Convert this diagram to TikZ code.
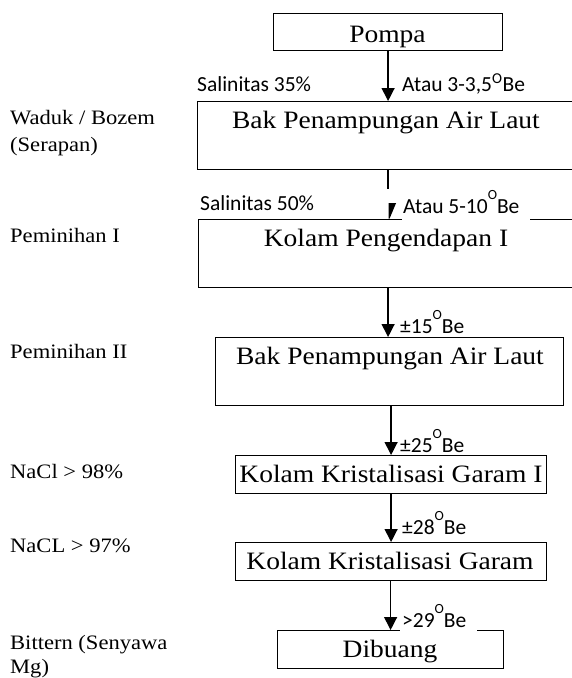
\documentclass[tikz,border=0pt]{standalone}
\usepackage{fontspec}
\setmainfont{Liberation Serif}
\newfontfamily\calfont{Carlito}
\newfontfamily\boxfont[FakeStretch=1.1]{Liberation Serif}
\usetikzlibrary{arrows.meta}
\newcommand{\supA}{\textsuperscript{O}}
\newcommand{\supB}{\raisebox{0.62em}{\fontsize{14}{14}\selectfont O}}
\begin{document}
\begin{tikzpicture}[x=1pt,y=-1pt,
  box/.style={draw, line width=1.2pt, inner sep=0pt, anchor=north west},
  boxtxt/.style={font=\boxfont\fontsize{25}{28}\selectfont, anchor=base, inner sep=0pt},
  side/.style={font=\boxfont\fontsize{20.5}{26}\selectfont, anchor=base west, inner sep=0pt},
  lbl/.style={font=\calfont\fontsize{21.5}{24}\selectfont, anchor=base west, inner sep=0pt},
  arr/.style={line width=1.3pt, -{Triangle[width=13pt,length=13pt]}},
  shaft/.style={line width=1.3pt},
  cover/.style={fill=white},
  ]
\useasboundingbox (0,0) rectangle (572,678);
% boxes
\node[box, minimum width=229pt, minimum height=37pt] (b1) at (273,13) {};
\node[boxtxt] (t1) at (387.5,42) {Pompa};
\node[box, minimum width=385pt, minimum height=68pt] (b2) at (197,101) {};
\node[boxtxt] (t2) at (386,128) {Bak Penampungan Air Laut};
\node[box, minimum width=385pt, minimum height=68pt] (b3) at (198,219) {};
\node[boxtxt] (t3) at (386,246) {Kolam Pengendapan I};
\node[box, minimum width=348pt, minimum height=68pt] (b4) at (215,337) {};
\node[boxtxt] (t4) at (390,364) {Bak Penampungan Air Laut};
\node[box, minimum width=311pt, minimum height=38pt] (b5) at (235,455) {};
\node[boxtxt] (t5) at (391,482) {Kolam Kristalisasi Garam I};
\node[box, minimum width=311pt, minimum height=38pt] (b6) at (235,542) {};
\node[boxtxt] (t6) at (390,569) {Kolam Kristalisasi Garam};
\node[box, minimum width=226pt, minimum height=38pt] (b7) at (277,630) {};
\node[boxtxt] (t7) at (390,657) {Dibuang};
% white label backgrounds over box edges
\fill[cover] (402,195) rectangle (530,220.5);
\fill[cover] (400,607) rectangle (477,631.5);
% arrows
\draw[arr] (b1.south) -- (b1.south |- b2.north);
\draw[shaft] (b1.south |- b2.south) -- ++(0,19);
\fill (b1.south |- b3.north) ++(0.5,-16) -- ++(7.5,0) -- ++(-6.5,15.5) -- ++(-1,0) -- cycle;
\draw[arr] (b1.south |- b3.south) -- (b1.south |- b4.north);
\draw[arr] (b5.north |- b4.south) -- (b5.north);
\draw[arr] (b5.south) -- (b6.north);
\draw[arr] (b6.south -| b7.north) -- (b7.north);
% connector labels
\node[lbl] (l1) at (197,91) {Salinitas 35\%};
\node[lbl] (l2) at (402,91) {Atau 3-3,5\supA Be};
\node[lbl] (l3) at (200,210) {Salinitas 50\%};
\node[lbl] (l4) at (403,213) {Atau 5-10\supB Be};
\node[lbl] (l5) at (400,333) {±15\supB Be};
\node[lbl] (l6) at (400,452) {±25\supB Be};
\node[lbl] (l7) at (402,534) {±28\supB Be};
\node[lbl] (l8) at (402,627) {>29\supB Be};
% side labels
\node[side] (s1a) at (10,124) {Waduk / Bozem};
\node[side] (s1b) at (10,151) {(Serapan)};
\node[side] (s2) at (10,242) {Peminihan I};
\node[side] (s3) at (10,358) {Peminihan II};
\node[side] (s4) at (10,478) {NaCl > 98\%};
\node[side] (s5) at (10,552) {NaCL > 97\%};
\node[side] (s6a) at (10,649) {Bittern (Senyawa};
\node[side] (s6b) at (10,673) {Mg)};
\end{tikzpicture}
\end{document}
